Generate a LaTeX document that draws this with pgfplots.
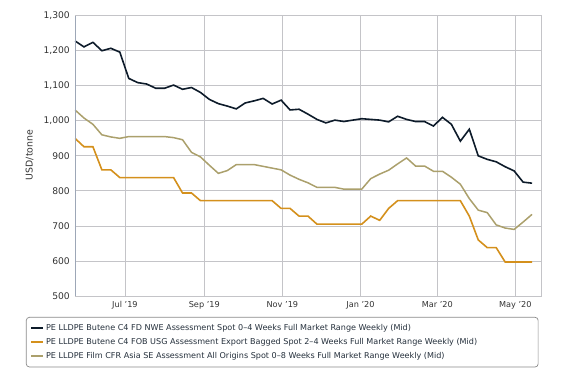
\documentclass[border=0pt]{standalone}
\usepackage{fontspec}
\setmainfont{DejaVu Sans}
\usepackage{pgfplots}
\pgfplotsset{compat=1.18}
\usepackage{pgfplotstable}
\definecolor{cblack}{HTML}{0D1B2A}
\definecolor{corange}{HTML}{D4901C}
\definecolor{ctan}{HTML}{ABA06C}
\definecolor{gridc}{HTML}{C4C4C8}
\definecolor{axc}{HTML}{8C9AB0}
\definecolor{labc}{HTML}{333333}
\definecolor{legc}{HTML}{8A8A8A}
\definecolor{legtext}{HTML}{25303C}
\pgfplotstableread{
x b o t
-39 1228 950 1031
-32 1211 926 1008
-25 1224 926 990
-18 1200 860 960
-11 1207 860 954
-4 1196 838 950
3 1121 838 955
10 1109 838 955
17 1105 838 955
24 1093 838 955
31 1093 838 955
38 1102 838 952
45 1090 794 946
52 1095 794 910
59 1081 772 897
66 1061 772 873
73 1049 772 850
80 1042 772 858
87 1034 772 875
94 1051 772 875
101 1057 772 875
108 1064 772 870
115 1048 772 865
122 1059 750 860
129 1031 750 845
136 1033 728 833
143 1019 728 823
150 1004 705 810
157 994 705 810
164 1002 705 810
171 998 705 805
178 1002 705 805
185 1006 705 805
192 1004 728 835
199 1002 716 848
206 997 750 859
213 1013 772 877
220 1004 772 894
227 998 772 871
234 998 772 871
241 985 772 856
248 1010 772 856
255 990 772 839
262 942 772 819
269 976 728 778
276 900 660 745
283 890 638 738
290 883 638 703
297 869 597 694
304 857 597 690
311 825 597 711
318 822 597 733
}\data
\begin{document}
\begin{tikzpicture}
\path[use as bounding box] (-75bp,-78bp) rectangle (501bp,296bp);
\begin{axis}[
  width=466bp, height=280.3bp, scale only axis,
  xmin=-39, xmax=325, ymin=500, ymax=1300,
  xtick={0,62,123,184,244,305},
  xticklabels={Jul '19, Sep '19, Nov '19, Jan '20, Mar '20, May '20},
  ytick={500,600,...,1300},
  grid=major,
  major grid style={color=gridc, line width=0.8bp},
  axis line style={color=gridc, line width=0.8bp},
  tick style={draw=none},
  /pgf/number format/assume math mode=true,
  /pgf/number format/1000 sep={,},
  yticklabel style={font=\fontsize{9.2}{10}\selectfont, text=labc, inner xsep=0pt, xshift=-5bp},
  xticklabel style={font=\fontsize{8.2}{9}\selectfont, text=labc, inner ysep=0pt, yshift=-5bp},
  ylabel={USD/tonne},
  every axis y label/.style={at={(axis description cs:-0.0976,0.503)}, rotate=90, anchor=center, font=\fontsize{9.4}{10}\selectfont, text=labc},
  legend style={at={(axis description cs:-0.1052,-0.0749)}, anchor=north west,
    draw=legc, rounded corners=3bp, line width=0.7bp,
    inner xsep=4bp, inner ysep=5.5bp, row sep=4bp,
    font=\fontsize{8.1}{9}\selectfont, text=legtext,
    cells={anchor=west},
    nodes={inner ysep=1bp, inner xsep=2bp, text height=6.4bp, text depth=1.8bp}},
  legend image code/.code={\draw[#1, line width=1.8bp] (0bp,0bp) -- (12bp,0bp);},
]
\addplot[color=cblack, line width=1.6bp] table[x=x, y=b] {\data};
\addlegendentry{\makebox[486bp][l]{PE LLDPE Butene C4 FD NWE Assessment Spot 0–4 Weeks Full Market Range Weekly (Mid)}}
\addplot[color=corange, line width=1.6bp] table[x=x, y=o] {\data};
\addlegendentry{PE LLDPE Butene C4 FOB USG Assessment Export Bagged Spot 2–4 Weeks Full Market Range Weekly (Mid)}
\addplot[color=ctan, line width=1.5bp] table[x=x, y=t] {\data};
\addlegendentry{PE LLDPE Film CFR Asia SE Assessment All Origins Spot 0–8 Weeks Full Market Range Weekly (Mid)}
\draw[color=axc, line width=0.9bp] (rel axis cs:0,0) -- (rel axis cs:1,0);
\draw[color=axc!70!gridc, line width=0.8bp] (rel axis cs:0,0) -- (rel axis cs:0,1);
\end{axis}
\end{tikzpicture}
\end{document}
